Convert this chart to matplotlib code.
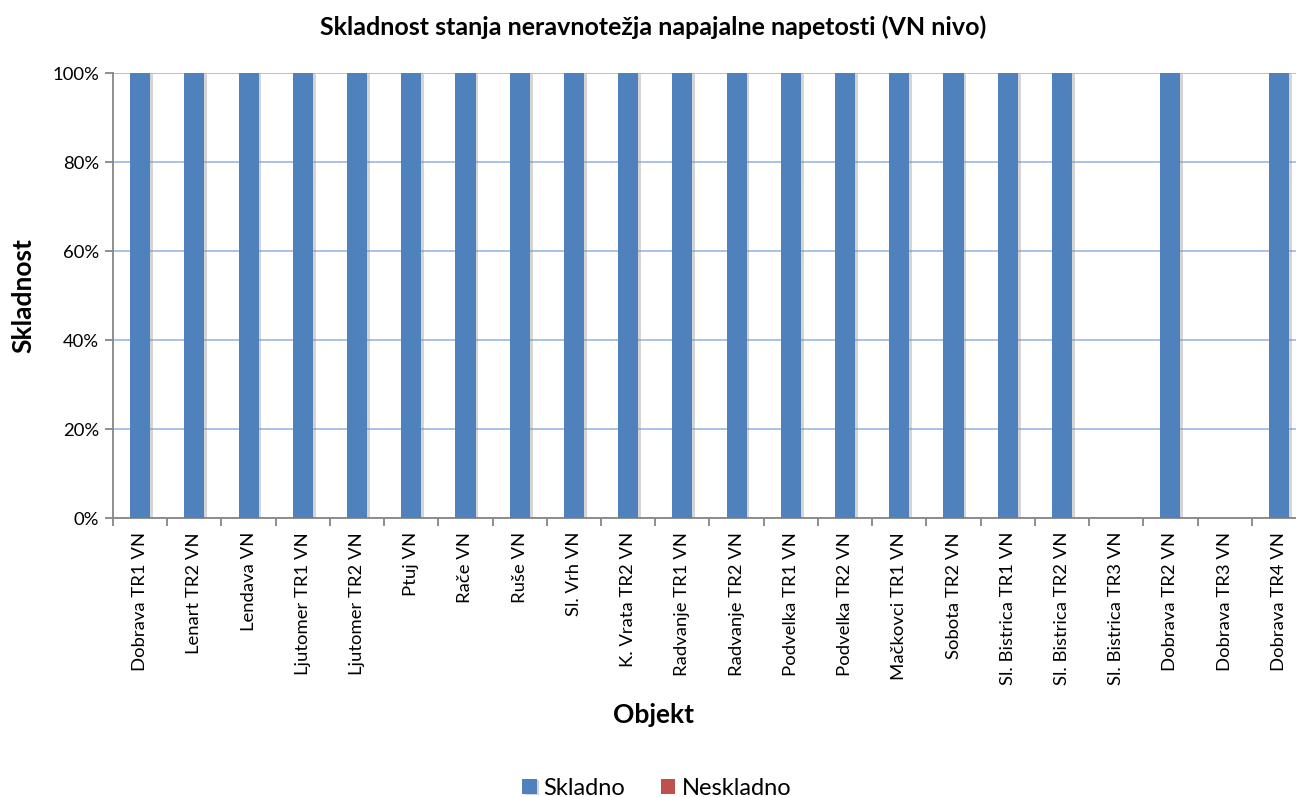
import numpy as np
import matplotlib.pyplot as plt
import matplotlib.patheffects as pe
from matplotlib.ticker import FuncFormatter

plt.rcParams['font.family'] = ['Lato', 'DejaVu Sans']

objekti = ["Dobrava TR1 VN", "Lenart TR2 VN", "Lendava VN", "Ljutomer TR1 VN",
	"Ljutomer TR2 VN", "Ptuj VN", "Rače VN", "Ruše VN", "Sl. Vrh VN",
	"K. Vrata TR2 VN", "Radvanje TR1 VN", "Radvanje TR2 VN", "Podvelka TR1 VN",
	"Podvelka TR2 VN", "Mačkovci TR1 VN", "Sobota TR2 VN", "Sl. Bistrica TR1 VN",
	"Sl. Bistrica TR2 VN", "Sl. Bistrica TR3 VN", "Dobrava TR2 VN",
	"Dobrava TR3 VN", "Dobrava TR4 VN"]
skladno = [1, 1, 1, 1, 1, 1, 1, 1, 1, 1, 1, 1, 1, 1, 1, 1, 1, 1, 0, 1, 0, 1]
neskladno = [0] * len(objekti)

fig = plt.figure(figsize=(12.96, 7.97), dpi=100)
ax = fig.add_axes([0.0872, 0.35, 0.9205, 0.5584])

x = np.arange(len(objekti))
shadow = [pe.SimplePatchShadow(offset=(2, -1), shadow_rgbFace='#888888', alpha=0.35), pe.Normal()]
b1 = ax.bar(x, skladno, width=0.37, color='#4F81BD', label='Skladno', zorder=3)
b2 = ax.bar(x, neskladno, width=0.37, bottom=skladno, color='#C0504D', label='Neskladno', zorder=3)
for b, v in zip(b1, skladno):
	if v > 0:
		b.set_path_effects(shadow)

ax.set_xlim(-0.5, len(objekti) - 0.5)
ax.set_ylim(0, 1)
ax.set_yticks(np.arange(0, 1.01, 0.2))
ax.yaxis.set_major_formatter(FuncFormatter(lambda v, p: "{:.0f}%".format(v * 100)))
ax.grid(axis='y', color='#A5BDE3', linewidth=1.3, zorder=0)
ax.set_axisbelow(True)

ax.set_xticks(x)
ax.set_xticklabels(objekti, rotation=90, fontsize=13.3)
ax.set_xticks(np.arange(-0.5, len(objekti), 1), minor=True)
ax.tick_params(axis='x', which='major', length=0, pad=10)
ax.tick_params(axis='x', which='minor', length=6, color='#868686', width=1.3)
ax.tick_params(axis='y', length=6, color='#868686', width=1.3, labelsize=13.3, pad=4)
for s in ['top', 'right']:
	ax.spines[s].set_visible(False)
for s in ['left', 'bottom']:
	ax.spines[s].set_color('#868686')
	ax.spines[s].set_linewidth(1.3)

ax.set_ylabel('Skladnost', fontsize=19, fontweight='bold', labelpad=12)
fig.text(0.504, 0.103, 'Objekt', fontsize=19, fontweight='bold', ha='center', va='center')
fig.suptitle('Skladnost stanja neravnotežja napajalne napetosti (VN nivo)',
	fontsize=18, fontweight='bold', x=0.504, y=0.966, va='center')

fig.legend(handles=[b1, b2], loc='center', bbox_to_anchor=(0.507, 0.011), ncol=2,
	frameon=False, fontsize=17, handlelength=0.6, handleheight=0.6,
	handletextpad=0.3, columnspacing=1.5)

fig.savefig('out.png', dpi=100)
